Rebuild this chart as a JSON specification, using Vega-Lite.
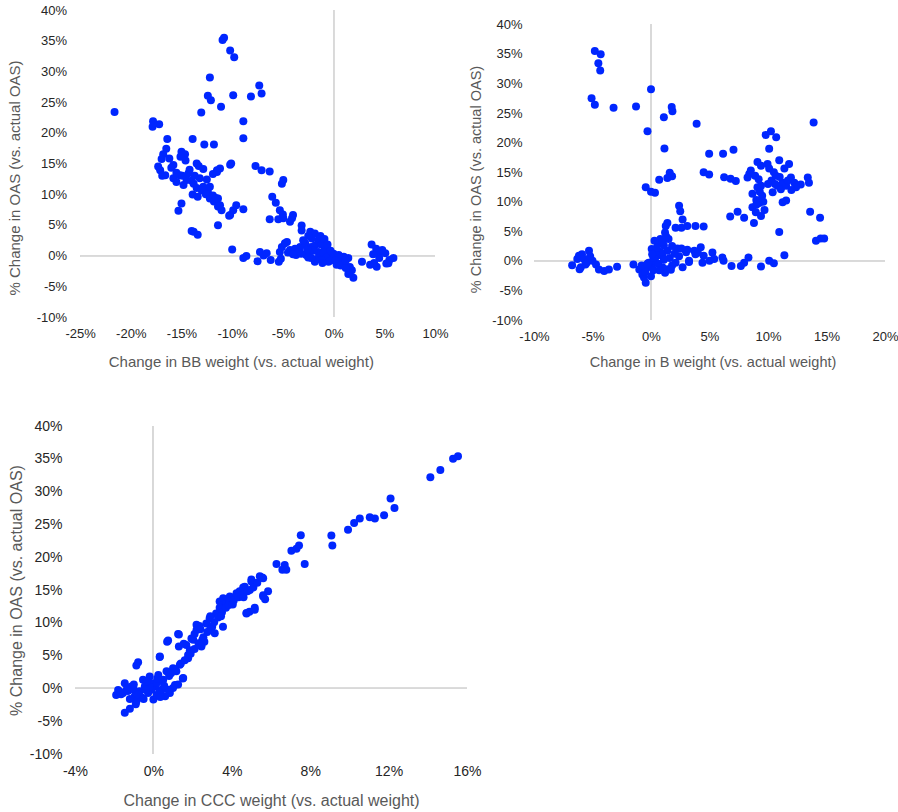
{
  "$schema": "https://vega.github.io/schema/vega-lite/v6.json",
  "background": "white",
  "padding": {"left": 7, "top": 4, "right": 0, "bottom": 5},
  "config": {
    "view": {"stroke": null},
    "font": "Liberation Sans",
    "axis": {"domain": false, "ticks": false, "grid": false, "labelColor": "#262626", "titleColor": "#595959", "titleFontWeight": "normal", "labelFlush": false, "labelOverlap": false}
  },
  "datasets": {
    "bb": [
      {"x":-21.6,"y":23.4},{"x":-17.8,"y":21.9},{"x":-17.85,"y":21.0},{"x":-17.2,"y":21.4},{"x":-16.4,"y":19.0},{"x":-13.9,"y":19.0},
      {"x":-12.75,"y":18.1},{"x":-11.8,"y":18.1},{"x":-13.05,"y":23.3},{"x":-12.2,"y":29.0},{"x":-12.4,"y":26.05},{"x":-12.1,"y":25.3},
      {"x":-11.1,"y":24.25},{"x":-10.95,"y":35.1},{"x":-10.8,"y":35.5},{"x":-10.2,"y":33.4},{"x":-9.8,"y":32.3},{"x":-9.9,"y":26.1},
      {"x":-8.15,"y":25.9},{"x":-7.33,"y":27.7},{"x":-7.1,"y":26.4},{"x":-8.9,"y":21.9},{"x":-8.9,"y":19.1},
      {"x":-16.5,"y":17.4},{"x":-16.8,"y":16.5},{"x":-16.96,"y":15.75},{"x":-17.3,"y":14.5},{"x":-15.8,"y":14.75},{"x":-15.0,"y":16.9},
      {"x":-14.65,"y":16.5},{"x":-15.1,"y":16.1},{"x":-13.5,"y":15.0},{"x":-13.3,"y":14.6},{"x":-12.85,"y":14.1},{"x":-11.5,"y":13.9},
      {"x":-11.2,"y":14.2},{"x":-10.2,"y":14.8},{"x":-10.1,"y":15.0},{"x":-17.1,"y":13.9},{"x":-16.6,"y":13.1},{"x":-15.8,"y":12.6},
      {"x":-15.15,"y":13.1},{"x":-14.5,"y":12.3},{"x":-13.8,"y":11.7},{"x":-13.2,"y":12.6},{"x":-12.85,"y":11.2},{"x":-12.4,"y":10.4},
      {"x":-11.9,"y":9.8},{"x":-11.5,"y":13.6},{"x":-11.9,"y":13.3},{"x":-16.2,"y":15.8},{"x":-16.0,"y":14.3},{"x":-15.5,"y":13.5},
      {"x":-14.9,"y":13.0},{"x":-14.3,"y":13.4},{"x":-14.0,"y":12.2},{"x":-13.5,"y":11.0},{"x":-13.0,"y":10.6},{"x":-12.6,"y":10.0},
      {"x":-12.2,"y":9.3},{"x":-11.8,"y":8.8},{"x":-11.4,"y":8.0},{"x":-11.6,"y":9.4},{"x":-14.6,"y":15.5},{"x":-14.2,"y":14.0},
      {"x":-13.7,"y":13.0},{"x":-12.5,"y":12.4},{"x":-16.9,"y":13.0},{"x":-15.5,"y":12.0},{"x":-14.8,"y":11.5},
      {"x":-12.2,"y":11.2},{"x":-11.4,"y":9.3},{"x":-11.2,"y":8.2},{"x":-11.05,"y":7.4},{"x":-10.2,"y":6.6},{"x":-9.9,"y":7.4},
      {"x":-9.6,"y":8.2},{"x":-8.9,"y":7.55},{"x":-10.3,"y":6.5},{"x":-15.0,"y":8.5},{"x":-15.3,"y":7.3},{"x":-13.9,"y":9.95},
      {"x":-13.4,"y":9.6},{"x":-11.4,"y":4.95},{"x":-14.0,"y":4.0},{"x":-13.4,"y":3.4},{"x":-13.8,"y":3.9},{"x":-10.0,"y":1.0},
      {"x":-8.9,"y":-0.4},{"x":-8.6,"y":-0.05},{"x":-7.5,"y":-0.9},{"x":-7.26,"y":0.6},{"x":-6.9,"y":0.0},{"x":-6.2,"y":-0.7},
      {"x":-5.4,"y":-1.0},{"x":-7.7,"y":14.6},{"x":-7.1,"y":13.9},{"x":-6.3,"y":13.7},{"x":-5.1,"y":11.7},{"x":-4.96,"y":12.3},
      {"x":-6.05,"y":9.6},{"x":-5.7,"y":8.6},{"x":-5.3,"y":7.4},{"x":-5.0,"y":6.7},{"x":-6.3,"y":5.9},{"x":-5.45,"y":5.9},
      {"x":-4.96,"y":6.1},{"x":-4.3,"y":5.5},{"x":-4.0,"y":6.6},{"x":-4.1,"y":6.1},{"x":-3.15,"y":4.9},{"x":-3.15,"y":4.1},
      {"x":-2.3,"y":3.9},{"x":-1.85,"y":3.6},{"x":-2.15,"y":2.8},{"x":-1.0,"y":2.2},{"x":-5.3,"y":0.6},{"x":-5.1,"y":1.4},
      {"x":-4.8,"y":2.0},{"x":-4.6,"y":2.2},{"x":-4.3,"y":0.9},{"x":-3.8,"y":1.1},{"x":-3.7,"y":0.1},{"x":-3.3,"y":1.4},
      {"x":-2.8,"y":2.0},{"x":-2.7,"y":0.1},{"x":-2.2,"y":1.4},{"x":-1.8,"y":1.7},{"x":-1.85,"y":-1.0},{"x":-1.5,"y":0.6},
      {"x":-1.4,"y":-0.2},{"x":-0.85,"y":1.2},{"x":-0.5,"y":0.1},{"x":-0.5,"y":-1.0},{"x":-0.2,"y":-0.4},{"x":0.3,"y":-0.2},
      {"x":0.3,"y":-1.5},{"x":0.8,"y":-0.4},{"x":1.1,"y":-1.2},{"x":1.45,"y":-0.4},{"x":1.6,"y":-1.85},{"x":1.8,"y":-2.4},
      {"x":1.95,"y":-3.6},{"x":1.45,"y":-3.0},{"x":2.8,"y":-1.0},{"x":3.75,"y":1.8},{"x":4.2,"y":1.1},{"x":4.5,"y":0.6},
      {"x":5.1,"y":0.4},{"x":3.6,"y":-1.5},{"x":4.25,"y":-1.8},{"x":4.5,"y":-0.4},{"x":5.4,"y":-1.25},{"x":5.9,"y":-0.4},
      {"x":5.5,"y":-0.7},{"x":-2.5,"y":3.2},{"x":-1.5,"y":2.5},{"x":-1.2,"y":1.8},{"x":-2.0,"y":0.8},{"x":-1.0,"y":0.5},
      {"x":-0.7,"y":-0.3},{"x":0.0,"y":0.3},{"x":-0.3,"y":-0.8},{"x":0.6,"y":-0.9},{"x":1.0,"y":-0.2},{"x":-1.6,"y":-0.5},
      {"x":-2.4,"y":0.5},{"x":-3.0,"y":2.5},{"x":-2.6,"y":1.0},{"x":0.5,"y":0.1},{"x":-1.2,"y":-0.7},{"x":4.8,"y":0.9},
      {"x":3.9,"y":0.2},{"x":5.2,"y":-1.3},{"x":4.0,"y":-1.2},{"x":-6.6,"y":0.4},{"x":-5.2,"y":-0.5},{"x":-4.5,"y":0.5},
      {"x":-3.5,"y":0.6},{"x":-2.5,"y":-0.3},
      {"x":-1.3,"y":3.2},{"x":-0.9,"y":2.7},{"x":-0.6,"y":1.8},{"x":-0.3,"y":0.8},{"x":0.2,"y":-0.8},{"x":0.7,"y":-1.6},
      {"x":1.2,"y":-2.0},{"x":-1.1,"y":-1.2},{"x":-2.2,"y":-0.4},{"x":-3.2,"y":0.3},{"x":-4.0,"y":0.2},{"x":1.2,"y":-0.8}
    ],
    "b": [
      {"x":-4.8,"y":35.5},{"x":-4.3,"y":34.95},{"x":-4.5,"y":33.4},{"x":-4.34,"y":32.2},{"x":-5.08,"y":27.5},{"x":-4.8,"y":26.4},
      {"x":-3.2,"y":25.9},{"x":-1.28,"y":26.1},{"x":0.0,"y":29.0},{"x":1.77,"y":26.0},{"x":1.83,"y":25.3},{"x":1.1,"y":24.3},
      {"x":3.9,"y":23.2},{"x":-0.3,"y":21.9},{"x":1.15,"y":19.0},{"x":-0.45,"y":12.45},{"x":0.0,"y":11.7},{"x":0.34,"y":11.5},
      {"x":0.7,"y":13.7},{"x":1.6,"y":14.9},{"x":1.4,"y":14.0},{"x":1.8,"y":14.3},{"x":2.4,"y":9.3},{"x":2.5,"y":8.4},
      {"x":2.7,"y":7.0},{"x":1.4,"y":6.4},{"x":1.26,"y":5.9},{"x":2.1,"y":5.6},{"x":2.6,"y":5.6},{"x":3.1,"y":5.9},
      {"x":3.8,"y":5.9},{"x":4.5,"y":5.8},{"x":4.5,"y":15.0},{"x":4.97,"y":14.6},{"x":4.97,"y":18.1},{"x":6.16,"y":18.1},
      {"x":7.05,"y":18.8},{"x":6.25,"y":14.15},{"x":6.8,"y":13.9},{"x":7.25,"y":13.5},{"x":6.77,"y":7.5},{"x":7.4,"y":8.3},
      {"x":7.96,"y":7.3},{"x":8.8,"y":6.4},{"x":8.67,"y":9.05},{"x":8.96,"y":8.2},{"x":9.4,"y":7.6},{"x":9.25,"y":9.8},
      {"x":9.5,"y":11.0},{"x":8.67,"y":11.35},{"x":9.1,"y":12.45},{"x":9.4,"y":12.7},{"x":8.4,"y":14.7},{"x":8.53,"y":15.3},
      {"x":8.25,"y":14.1},{"x":8.9,"y":14.4},{"x":9.1,"y":16.7},{"x":9.4,"y":16.1},{"x":9.96,"y":16.4},{"x":10.1,"y":15.6},
      {"x":10.3,"y":13.6},{"x":10.67,"y":14.4},{"x":10.96,"y":17.0},{"x":11.8,"y":16.4},{"x":11.4,"y":15.6},{"x":10.4,"y":11.6},
      {"x":10.8,"y":12.7},{"x":11.25,"y":13.2},{"x":11.1,"y":12.1},{"x":11.55,"y":12.7},{"x":11.96,"y":14.1},{"x":12.25,"y":13.2},
      {"x":12.8,"y":12.9},{"x":12.4,"y":12.45},{"x":13.4,"y":14.1},{"x":13.5,"y":13.2},{"x":11.25,"y":9.9},{"x":11.55,"y":10.2},
      {"x":13.6,"y":8.3},{"x":14.45,"y":7.3},{"x":10.96,"y":4.9},{"x":14.1,"y":3.4},{"x":14.5,"y":3.8},{"x":14.8,"y":3.8},
      {"x":9.8,"y":21.3},{"x":10.25,"y":21.9},{"x":10.7,"y":20.9},{"x":10.1,"y":18.96},{"x":13.9,"y":23.4},
      {"x":9.0,"y":10.3},{"x":9.6,"y":10.0},{"x":9.3,"y":11.7},{"x":10.6,"y":13.0},{"x":11.0,"y":14.2},{"x":10.0,"y":13.0},
      {"x":9.2,"y":13.8},{"x":11.7,"y":13.6},{"x":12.0,"y":12.0},{"x":10.5,"y":15.0},{"x":9.7,"y":8.6},{"x":9.0,"y":9.5},
      {"x":11.4,"y":0.97},{"x":10.1,"y":0.0},{"x":10.5,"y":-0.4},{"x":9.4,"y":-0.96},{"x":8.33,"y":0.57},{"x":7.96,"y":-0.3},
      {"x":7.68,"y":-0.85},{"x":6.88,"y":-0.85},{"x":6.2,"y":0.0},{"x":6.1,"y":0.57},{"x":5.25,"y":1.4},{"x":5.4,"y":0.3},
      {"x":4.5,"y":0.85},{"x":4.4,"y":-0.3},{"x":4.25,"y":2.3},{"x":4.0,"y":1.4},{"x":5.0,"y":0.0},{"x":3.8,"y":1.1},
      {"x":3.25,"y":-0.2},{"x":3.1,"y":1.9},{"x":2.7,"y":-1.1},{"x":2.25,"y":2.1},
      {"x":-6.74,"y":-0.73},{"x":-6.3,"y":0.3},{"x":-6.16,"y":0.85},{"x":-5.9,"y":1.1},{"x":-5.3,"y":1.7},{"x":-5.74,"y":0.3},
      {"x":-6.0,"y":-1.1},{"x":-5.5,"y":-0.3},{"x":-5.0,"y":0.0},{"x":-4.7,"y":-0.6},{"x":-4.45,"y":-1.45},{"x":-4.0,"y":-1.7},
      {"x":-3.6,"y":-1.45},{"x":-2.9,"y":-1.0},{"x":-1.5,"y":-0.6},{"x":-5.6,"y":-0.6},{"x":-6.1,"y":-1.4},{"x":-5.2,"y":0.8},
      {"x":-1.0,"y":-1.45},{"x":-0.74,"y":-2.3},{"x":-0.45,"y":-3.7},{"x":-0.6,"y":-2.8},{"x":-0.3,"y":-1.1},{"x":0.06,"y":-0.85},
      {"x":0.34,"y":0.0},{"x":0.5,"y":0.85},{"x":0.06,"y":2.0},{"x":0.3,"y":3.4},{"x":0.8,"y":3.7},{"x":1.2,"y":4.8},
      {"x":1.5,"y":3.7},{"x":1.8,"y":2.5},{"x":1.4,"y":1.7},{"x":0.97,"y":0.85},{"x":0.97,"y":-1.1},{"x":1.2,"y":-2.0},
      {"x":2.1,"y":-0.3},{"x":2.2,"y":2.0},{"x":3.0,"y":1.45},{"x":3.25,"y":0.0},{"x":3.7,"y":1.7},
      {"x":-0.2,"y":-0.3},{"x":0.2,"y":-1.6},{"x":0.6,"y":-0.5},{"x":0.8,"y":1.5},{"x":1.6,"y":0.5},{"x":1.1,"y":2.6},
      {"x":0.4,"y":1.6},{"x":-0.5,"y":-1.9},{"x":0.0,"y":-2.6},{"x":1.8,"y":-0.8},{"x":2.4,"y":0.8},{"x":1.4,"y":-1.4},
      {"x":0.6,"y":2.9},{"x":-0.8,"y":-0.8},
      {"x":0.2,"y":0.5},{"x":0.5,"y":2.2},{"x":1.0,"y":3.2},{"x":1.3,"y":4.1},{"x":0.1,"y":1.1},{"x":-0.3,"y":-0.5},
      {"x":0.7,"y":-1.6},{"x":1.1,"y":0.2},{"x":2.0,"y":1.2},{"x":2.6,"y":2.1},{"x":1.7,"y":-1.5}
    ],
    "ccc": [
      {"x":15.54,"y":35.4},{"x":15.29,"y":35.0},{"x":14.64,"y":33.3},{"x":14.13,"y":32.2},{"x":12.1,"y":28.96},{"x":12.3,"y":27.5},
      {"x":11.77,"y":26.4},{"x":11.3,"y":25.9},{"x":11.04,"y":26.1},{"x":10.53,"y":25.9},{"x":10.24,"y":25.2},{"x":9.93,"y":24.2},
      {"x":9.08,"y":23.3},{"x":9.13,"y":21.8},{"x":7.52,"y":23.35},{"x":7.43,"y":21.8},{"x":7.3,"y":21.3},{"x":7.04,"y":21.0},
      {"x":7.72,"y":18.96},{"x":6.28,"y":18.96},{"x":6.7,"y":18.8},{"x":6.58,"y":18.1},{"x":6.78,"y":18.1},
      {"x":5.43,"y":17.1},{"x":5.6,"y":16.8},{"x":5.0,"y":16.3},{"x":4.58,"y":15.4},{"x":4.24,"y":14.5},{"x":3.9,"y":14.0},
      {"x":3.56,"y":13.76},{"x":3.64,"y":13.0},{"x":5.85,"y":14.8},{"x":5.6,"y":14.2},{"x":5.7,"y":13.6},{"x":5.17,"y":12.3},
      {"x":4.75,"y":11.5},{"x":4.9,"y":11.7},{"x":5.0,"y":16.6},{"x":4.66,"y":15.5},{"x":3.38,"y":13.25},{"x":3.55,"y":12.7},
      {"x":3.13,"y":8.4},{"x":3.55,"y":9.4},{"x":2.2,"y":9.7},{"x":2.6,"y":7.1},{"x":2.45,"y":6.4},{"x":1.94,"y":7.6},
      {"x":1.77,"y":4.6},{"x":1.26,"y":8.3},{"x":1.3,"y":6.4},{"x":0.7,"y":7.1},{"x":0.32,"y":4.8},{"x":-0.78,"y":4.0},
      {"x":-0.87,"y":3.5},{"x":1.5,"y":1.5},{"x":1.1,"y":0.5},
      {"x":-1.46,"y":-3.7},{"x":-1.2,"y":-3.1},{"x":-1.9,"y":-1.0},{"x":-1.8,"y":-0.25},{"x":-1.46,"y":0.77},{"x":-1.55,"y":-0.7},
      {"x":-1.12,"y":0.3},{"x":-0.95,"y":-1.2},{"x":-0.87,"y":-2.0},{"x":-0.7,"y":-0.45},{"x":-0.44,"y":0.3},{"x":-0.53,"y":1.3},
      {"x":-0.19,"y":1.8},{"x":0.0,"y":0.8},{"x":-0.27,"y":-0.7},{"x":0.0,"y":-1.7},{"x":0.17,"y":-1.0},{"x":0.25,"y":2.05},
      {"x":0.5,"y":1.3},{"x":0.42,"y":-0.2},{"x":0.6,"y":-1.2},{"x":0.84,"y":-0.7},{"x":0.67,"y":2.6},{"x":1.0,"y":3.06},
      {"x":1.35,"y":3.6},{"x":1.17,"y":2.6},{"x":1.52,"y":1.6},{"x":1.26,"y":0.6},{"x":1.0,"y":0.06},{"x":0.76,"y":-0.2},
      {"x":0.33,"y":4.85},{"x":0.75,"y":7.3},{"x":1.3,"y":8.2},{"x":1.68,"y":6.6},{"x":1.77,"y":5.1},{"x":1.86,"y":5.8},
      {"x":2.03,"y":7.4},{"x":2.2,"y":8.9},{"x":2.45,"y":6.6},{"x":2.5,"y":7.4},{"x":2.35,"y":9.5},{"x":2.7,"y":9.9},
      {"x":2.87,"y":10.7},{"x":3.2,"y":11.4},{"x":3.38,"y":12.3},{"x":3.72,"y":12.85},{"x":4.0,"y":13.6},{"x":4.23,"y":14.1},
      {"x":4.58,"y":14.6},{"x":4.92,"y":15.0},{"x":4.75,"y":11.4},{"x":5.17,"y":12.0},{"x":5.6,"y":14.0},
      {"x":-0.6,"y":-1.4},{"x":-1.0,"y":-0.2},{"x":-0.3,"y":0.9},{"x":0.1,"y":0.3},{"x":-1.3,"y":-0.4},{"x":0.3,"y":-0.6},
      {"x":-0.1,"y":-0.2},{"x":2.9,"y":11.0},{"x":3.9,"y":13.2},{"x":4.4,"y":14.8},{"x":2.4,"y":9.0},{"x":2.1,"y":8.3},
      {"x":1.55,"y":6.8},{"x":0.8,"y":1.9},{"x":-1.65,"y":-0.9},
      {"x":0.9,"y":2.3},{"x":1.1,"y":2.9},{"x":1.4,"y":3.8},{"x":1.6,"y":4.3},{"x":1.9,"y":5.3},{"x":2.1,"y":6.0},
      {"x":2.3,"y":6.9},{"x":2.55,"y":7.8},{"x":2.75,"y":8.6},{"x":3.0,"y":9.4},{"x":3.1,"y":10.1},{"x":3.3,"y":10.8},
      {"x":3.5,"y":11.6},{"x":3.7,"y":12.3},{"x":3.85,"y":12.7},{"x":4.1,"y":13.4},{"x":4.35,"y":13.9},{"x":4.5,"y":14.2},
      {"x":4.8,"y":14.8},{"x":5.1,"y":15.4},{"x":5.3,"y":16.1},{"x":5.55,"y":16.9},{"x":2.9,"y":9.0},{"x":3.45,"y":11.0},
      {"x":4.05,"y":12.8},{"x":4.6,"y":13.9},
      {"x":-1.7,"y":-0.5},{"x":-1.35,"y":-0.1},{"x":-1.0,"y":0.6},{"x":-0.8,"y":-0.9},{"x":-0.5,"y":-1.6},{"x":-0.2,"y":0.2},
      {"x":0.2,"y":0.9},{"x":0.35,"y":-1.3},{"x":-0.4,"y":-0.2},{"x":-1.2,"y":-1.6},{"x":-0.9,"y":-2.4},{"x":0.55,"y":0.4},
      {"x":0.2,"y":1.5},{"x":-0.35,"y":1.1}
    ]
  },
  "concat": [
    {
      "hconcat": [
        {
          "width": 360,
          "height": 307,
          "data": {"name": "bb"},
          "layer": [
            {"mark": {"type": "rule", "color": "#d9d9d9", "strokeWidth": 1.2},
             "encoding": {"x": {"datum": -25, "type": "quantitative", "scale": {"domain": [-25.5, 10], "nice": false, "zero": false},
               "axis": {"title": "Change in BB weight (vs. actual weight)", "values": [-25, -20, -15, -10, -5, 0, 5, 10], "labelExpr": "datum.value + '%'", "labelOverlap": false, "labelFontSize": 13, "titleFontSize": 15, "labelPadding": 10, "titlePadding": 14, "titleX": 165.8}},
               "x2": {"datum": 10},
               "y": {"datum": 0, "type": "quantitative", "scale": {"domain": [-10, 40], "nice": false, "zero": false},
               "axis": {"title": "% Change in OAS (vs. actual OAS)", "values": [-10, -5, 0, 5, 10, 15, 20, 25, 30, 35, 40], "labelExpr": "datum.value + '%'", "labelOverlap": false, "labelFontSize": 13, "titleFontSize": 15, "labelPadding": 8.5, "titlePadding": 13.3, "titleY": 167.5}}}},
            {"mark": {"type": "rule", "color": "#d9d9d9", "strokeWidth": 1.2},
             "encoding": {"x": {"datum": 0, "type": "quantitative", "scale": {"domain": [-25.5, 10], "nice": false, "zero": false},
               "axis": {"title": "Change in BB weight (vs. actual weight)", "values": [-25, -20, -15, -10, -5, 0, 5, 10], "labelExpr": "datum.value + '%'", "labelOverlap": false, "labelFontSize": 13, "titleFontSize": 15, "labelPadding": 10, "titlePadding": 14, "titleX": 165.8}},
               "y": {"datum": -10, "type": "quantitative", "scale": {"domain": [-10, 40], "nice": false, "zero": false},
               "axis": {"title": "% Change in OAS (vs. actual OAS)", "values": [-10, -5, 0, 5, 10, 15, 20, 25, 30, 35, 40], "labelExpr": "datum.value + '%'", "labelOverlap": false, "labelFontSize": 13, "titleFontSize": 15, "labelPadding": 8.5, "titlePadding": 13.3, "titleY": 167.5}},
               "y2": {"datum": 40}}},
            {
              "mark": {"type": "circle", "size": 64, "opacity": 1, "color": "#0026FF"},
              "encoding": {
                "x": {"field": "x", "type": "quantitative", "scale": {"domain": [-25.5, 10], "nice": false, "zero": false},
                  "axis": {"title": "Change in BB weight (vs. actual weight)", "values": [-25, -20, -15, -10, -5, 0, 5, 10], "labelExpr": "datum.value + '%'", "labelOverlap": false, "labelFontSize": 13, "titleFontSize": 15, "labelPadding": 10, "titlePadding": 14, "titleX": 165.8}},
                "y": {"field": "y", "type": "quantitative", "scale": {"domain": [-10, 40], "nice": false, "zero": false},
                  "axis": {"title": "% Change in OAS (vs. actual OAS)", "values": [-10, -5, 0, 5, 10, 15, 20, 25, 30, 35, 40], "labelExpr": "datum.value + '%'", "labelOverlap": false, "labelFontSize": 13, "titleFontSize": 15, "labelPadding": 8.5, "titlePadding": 13.3, "titleY": 167.5}}
              }
            }
          ]
        },
        {
          "width": 351,
          "height": 310,
          "data": {"name": "b"},
          "layer": [
            {"mark": {"type": "rule", "color": "#d9d9d9", "strokeWidth": 1.2},
             "encoding": {"y": {"datum": 0, "type": "quantitative", "scale": {"domain": [-10, 42.42], "nice": false, "zero": false},
               "axis": {"title": "% Change in OAS (vs. actual OAS)", "values": [-10, -5, 0, 5, 10, 15, 20, 25, 30, 35, 40], "labelExpr": "datum.value + '%'", "labelOverlap": false, "labelFontSize": 13, "titleFontSize": 14.5, "labelPadding": 12, "titlePadding": 8, "titleY": 169}}}},
            {"mark": {"type": "rule", "color": "#d9d9d9", "strokeWidth": 1.2},
             "encoding": {"x": {"datum": 0, "type": "quantitative", "scale": {"domain": [-10, 20], "nice": false, "zero": false},
               "axis": {"title": "Change in B weight (vs. actual weight)", "values": [-10, -5, 0, 5, 10, 15, 20], "labelExpr": "datum.value + '%'", "labelOverlap": false, "labelFontSize": 13, "titleFontSize": 14.5, "labelPadding": 10, "titlePadding": 12, "titleX": 178.5}},
               "y": {"datum": -10, "type": "quantitative", "scale": {"domain": [-10, 42.42], "nice": false, "zero": false},
               "axis": {"title": "% Change in OAS (vs. actual OAS)", "values": [-10, -5, 0, 5, 10, 15, 20, 25, 30, 35, 40], "labelExpr": "datum.value + '%'", "labelOverlap": false, "labelFontSize": 13, "titleFontSize": 14.5, "labelPadding": 12, "titlePadding": 8, "titleY": 169}},
               "y2": {"datum": 40}}},
            {
              "mark": {"type": "circle", "size": 64, "opacity": 1, "color": "#0026FF"},
              "encoding": {
                "x": {"field": "x", "type": "quantitative", "scale": {"domain": [-10, 20], "nice": false, "zero": false},
                  "axis": {"title": "Change in B weight (vs. actual weight)", "values": [-10, -5, 0, 5, 10, 15, 20], "labelExpr": "datum.value + '%'", "labelOverlap": false, "labelFontSize": 13, "titleFontSize": 14.5, "labelPadding": 10, "titlePadding": 12, "titleX": 178.5}},
                "y": {"field": "y", "type": "quantitative", "scale": {"domain": [-10, 42.42], "nice": false, "zero": false},
                  "axis": {"title": "% Change in OAS (vs. actual OAS)", "values": [-10, -5, 0, 5, 10, 15, 20, 25, 30, 35, 40], "labelExpr": "datum.value + '%'", "labelOverlap": false, "labelFontSize": 13, "titleFontSize": 14.5, "labelPadding": 12, "titlePadding": 8, "titleY": 169}}
              }
            }
          ]
        }
      ],
      "spacing": 19
    },
    {
      "width": 392,
      "height": 328,
      "data": {"name": "ccc"},
      "layer": [
        {"mark": {"type": "rule", "color": "#d9d9d9", "strokeWidth": 1.2},
         "encoding": {"y": {"datum": 0, "type": "quantitative", "scale": {"domain": [-10, 40], "nice": false, "zero": false},
           "axis": {"title": "% Change in OAS (vs. actual OAS)", "values": [-10, -5, 0, 5, 10, 15, 20, 25, 30, 35, 40], "labelExpr": "datum.value + '%'", "labelOverlap": false, "labelFontSize": 14, "titleFontSize": 16, "labelPadding": 13, "titlePadding": 5}}}},
        {"mark": {"type": "rule", "color": "#d9d9d9", "strokeWidth": 1.2},
         "encoding": {"x": {"datum": 0, "type": "quantitative", "scale": {"domain": [-4, 16], "nice": false, "zero": false},
           "axis": {"title": "Change in CCC weight (vs. actual weight)", "values": [-4, 0, 4, 8, 12, 16], "labelExpr": "datum.value + '%'", "labelOverlap": false, "labelFontSize": 14, "titleFontSize": 16, "labelPadding": 10, "titlePadding": 14}},
           "y": {"datum": -10, "type": "quantitative", "scale": {"domain": [-10, 40], "nice": false, "zero": false},
           "axis": {"title": "% Change in OAS (vs. actual OAS)", "values": [-10, -5, 0, 5, 10, 15, 20, 25, 30, 35, 40], "labelExpr": "datum.value + '%'", "labelOverlap": false, "labelFontSize": 14, "titleFontSize": 16, "labelPadding": 13, "titlePadding": 5}},
           "y2": {"datum": 40}}},
        {
          "mark": {"type": "circle", "size": 64, "opacity": 1, "color": "#0026FF"},
          "encoding": {
            "x": {"field": "x", "type": "quantitative", "scale": {"domain": [-4, 16], "nice": false, "zero": false},
              "axis": {"title": "Change in CCC weight (vs. actual weight)", "values": [-4, 0, 4, 8, 12, 16], "labelExpr": "datum.value + '%'", "labelOverlap": false, "labelFontSize": 14, "titleFontSize": 16, "labelPadding": 10, "titlePadding": 14}},
            "y": {"field": "y", "type": "quantitative", "scale": {"domain": [-10, 40], "nice": false, "zero": false},
              "axis": {"title": "% Change in OAS (vs. actual OAS)", "values": [-10, -5, 0, 5, 10, 15, 20, 25, 30, 35, 40], "labelExpr": "datum.value + '%'", "labelOverlap": false, "labelFontSize": 14, "titleFontSize": 16, "labelPadding": 13, "titlePadding": 5}}
          }
        }
      ]
    }
  ],
  "columns": 1,
  "align": "none",
  "spacing": 50
}
